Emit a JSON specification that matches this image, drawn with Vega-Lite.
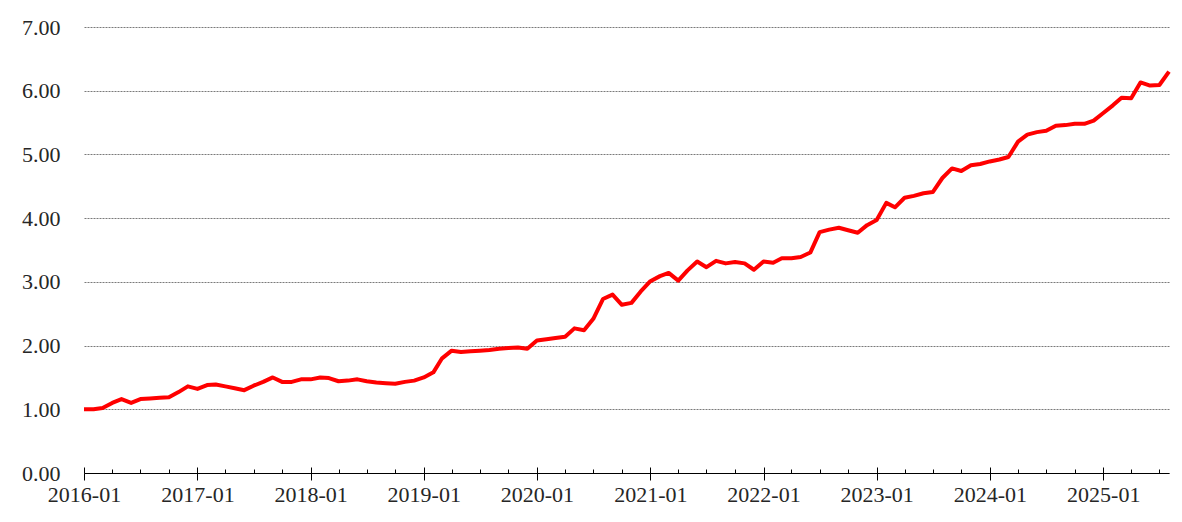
{
  "$schema": "https://vega.github.io/schema/vega-lite/v6.json",
  "width": 1085,
  "height": 446,
  "autosize": {"type": "none"},
  "padding": {"left": 84, "top": 27, "right": 13, "bottom": 49},
  "background": "white",
  "config": {"view": {"stroke": null}, "font": "Liberation Serif"},
  "data": {"values": [
    {"date": "2016-01", "value": 1.00}, {"date": "2016-02", "value": 1.00}, {"date": "2016-03", "value": 1.02}, {"date": "2016-04", "value": 1.10},
    {"date": "2016-05", "value": 1.16}, {"date": "2016-06", "value": 1.10}, {"date": "2016-07", "value": 1.16}, {"date": "2016-08", "value": 1.17},
    {"date": "2016-09", "value": 1.18}, {"date": "2016-10", "value": 1.19}, {"date": "2016-11", "value": 1.27}, {"date": "2016-12", "value": 1.36},
    {"date": "2017-01", "value": 1.32}, {"date": "2017-02", "value": 1.38}, {"date": "2017-03", "value": 1.39}, {"date": "2017-04", "value": 1.36},
    {"date": "2017-05", "value": 1.33}, {"date": "2017-06", "value": 1.30}, {"date": "2017-07", "value": 1.37}, {"date": "2017-08", "value": 1.43},
    {"date": "2017-09", "value": 1.50}, {"date": "2017-10", "value": 1.43}, {"date": "2017-11", "value": 1.43}, {"date": "2017-12", "value": 1.47},
    {"date": "2018-01", "value": 1.47}, {"date": "2018-02", "value": 1.50}, {"date": "2018-03", "value": 1.49}, {"date": "2018-04", "value": 1.44},
    {"date": "2018-05", "value": 1.45}, {"date": "2018-06", "value": 1.47}, {"date": "2018-07", "value": 1.44}, {"date": "2018-08", "value": 1.42},
    {"date": "2018-09", "value": 1.41}, {"date": "2018-10", "value": 1.40}, {"date": "2018-11", "value": 1.43}, {"date": "2018-12", "value": 1.45},
    {"date": "2019-01", "value": 1.50}, {"date": "2019-02", "value": 1.58}, {"date": "2019-03", "value": 1.80}, {"date": "2019-04", "value": 1.92},
    {"date": "2019-05", "value": 1.90}, {"date": "2019-06", "value": 1.91}, {"date": "2019-07", "value": 1.92}, {"date": "2019-08", "value": 1.93},
    {"date": "2019-09", "value": 1.95}, {"date": "2019-10", "value": 1.96}, {"date": "2019-11", "value": 1.97}, {"date": "2019-12", "value": 1.95},
    {"date": "2020-01", "value": 2.08}, {"date": "2020-02", "value": 2.10}, {"date": "2020-03", "value": 2.12}, {"date": "2020-04", "value": 2.14},
    {"date": "2020-05", "value": 2.27}, {"date": "2020-06", "value": 2.24}, {"date": "2020-07", "value": 2.42}, {"date": "2020-08", "value": 2.73},
    {"date": "2020-09", "value": 2.80}, {"date": "2020-10", "value": 2.64}, {"date": "2020-11", "value": 2.67}, {"date": "2020-12", "value": 2.85},
    {"date": "2021-01", "value": 3.01}, {"date": "2021-02", "value": 3.09}, {"date": "2021-03", "value": 3.14}, {"date": "2021-04", "value": 3.02},
    {"date": "2021-05", "value": 3.18}, {"date": "2021-06", "value": 3.32}, {"date": "2021-07", "value": 3.23}, {"date": "2021-08", "value": 3.33},
    {"date": "2021-09", "value": 3.29}, {"date": "2021-10", "value": 3.31}, {"date": "2021-11", "value": 3.29}, {"date": "2021-12", "value": 3.19},
    {"date": "2022-01", "value": 3.32}, {"date": "2022-02", "value": 3.30}, {"date": "2022-03", "value": 3.37}, {"date": "2022-04", "value": 3.37},
    {"date": "2022-05", "value": 3.39}, {"date": "2022-06", "value": 3.46}, {"date": "2022-07", "value": 3.78}, {"date": "2022-08", "value": 3.82},
    {"date": "2022-09", "value": 3.85}, {"date": "2022-10", "value": 3.81}, {"date": "2022-11", "value": 3.77}, {"date": "2022-12", "value": 3.89},
    {"date": "2023-01", "value": 3.97}, {"date": "2023-02", "value": 4.24}, {"date": "2023-03", "value": 4.17}, {"date": "2023-04", "value": 4.32},
    {"date": "2023-05", "value": 4.35}, {"date": "2023-06", "value": 4.39}, {"date": "2023-07", "value": 4.41}, {"date": "2023-08", "value": 4.63},
    {"date": "2023-09", "value": 4.78}, {"date": "2023-10", "value": 4.74}, {"date": "2023-11", "value": 4.83}, {"date": "2023-12", "value": 4.85},
    {"date": "2024-01", "value": 4.89}, {"date": "2024-02", "value": 4.92}, {"date": "2024-03", "value": 4.96}, {"date": "2024-04", "value": 5.20},
    {"date": "2024-05", "value": 5.31}, {"date": "2024-06", "value": 5.35}, {"date": "2024-07", "value": 5.37}, {"date": "2024-08", "value": 5.45},
    {"date": "2024-09", "value": 5.46}, {"date": "2024-10", "value": 5.48}, {"date": "2024-11", "value": 5.48}, {"date": "2024-12", "value": 5.53},
    {"date": "2025-01", "value": 5.65}, {"date": "2025-02", "value": 5.77}, {"date": "2025-03", "value": 5.89}, {"date": "2025-04", "value": 5.88},
    {"date": "2025-05", "value": 6.13}, {"date": "2025-06", "value": 6.08}, {"date": "2025-07", "value": 6.09}, {"date": "2025-08", "value": 6.30}
  ]},
  "layer": [
    {
      "mark": {"type": "line", "opacity": 0},
      "encoding": {
        "x": {
          "field": "date", "type": "temporal",
          "scale": {"type": "utc", "nice": false, "domain": [{"year": 2016, "month": 1, "utc": true}, {"year": 2025, "month": 8, "utc": true}]},
          "axis": {
            "title": null, "orient": "bottom", "labels": false, "domain": false, "grid": false,
            "tickCount": {"interval": "month", "step": 3},
            "tickColor": "#000000", "tickWidth": 1,
            "tickSize": {"condition": {"test": "utcmonth(datum.value) === 0", "value": -6}, "value": -4}
          }
        },
        "y": {
          "field": "value", "type": "quantitative",
          "scale": {"domain": [0, 7], "nice": false},
          "axis": {
            "title": null, "values": [0, 1, 2, 3, 4, 5, 6, 7], "format": ".2f",
            "domain": false, "ticks": false, "tickSize": 0, "labelPadding": 24,
            "labelFontSize": 22, "labelColor": "#262626",
            "grid": true, "gridDash": [2, 1], "gridColor": "#7a7a7a", "gridWidth": 1
          }
        }
      }
    },
    {
      "mark": {"type": "line", "color": "#ff0000", "strokeWidth": 4, "strokeJoin": "round"},
      "encoding": {
        "x": {
          "field": "date", "type": "temporal",
          "axis": {
            "title": null, "orient": "bottom", "format": "%Y-%m",
            "tickCount": {"interval": "year", "step": 1},
            "tickSize": 7, "tickColor": "#000000", "tickWidth": 1,
            "domainColor": "#000000", "domainWidth": 1,
            "labelFontSize": 22, "labelColor": "#262626", "labelPadding": 4,
            "labelFlush": false, "labelOverlap": false, "grid": false
          }
        },
        "y": {
          "field": "value", "type": "quantitative",
          "axis": {
            "title": null, "values": [0, 1, 2, 3, 4, 5, 6, 7], "format": ".2f",
            "domain": false, "ticks": false, "tickSize": 0, "labelPadding": 24,
            "labelFontSize": 22, "labelColor": "#262626",
            "grid": true, "gridDash": [2, 1], "gridColor": "#7a7a7a", "gridWidth": 1
          }
        }
      }
    }
  ],
  "resolve": {"axis": {"x": "independent"}}
}
